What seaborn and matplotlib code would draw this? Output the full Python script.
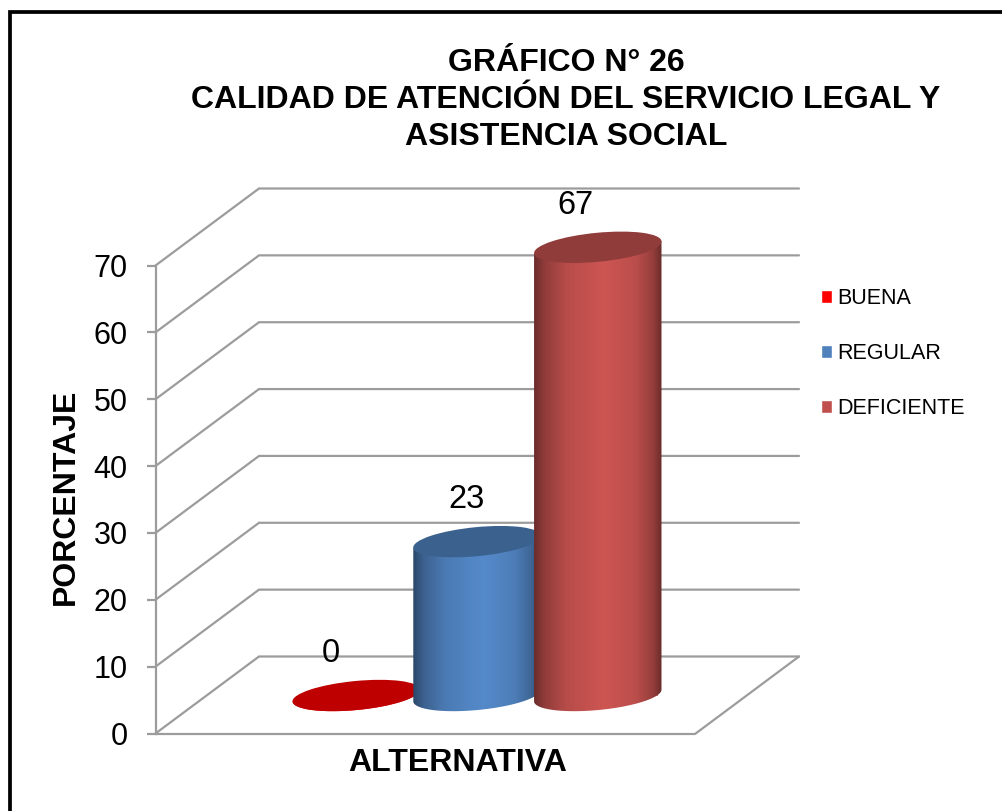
import numpy as np
import pandas as pd
import seaborn as sns
import matplotlib.pyplot as plt
from matplotlib.colors import LinearSegmentedColormap, to_rgb
from matplotlib.patches import Ellipse, PathPatch
from matplotlib.path import Path

alternativas = ["BUENA", "REGULAR", "DEFICIENTE"]
porcentajes = [0, 23, 67]
colores = ["#FF0000", "#4F81BD", "#C0504D"]
ticks = [0, 10, 20, 30, 40, 50, 60, 70]

sns.set_theme(style="white")
plt.rcParams['font.family'] = ['Liberation Sans', 'DejaVu Sans']

W, H = 1002, 811
GRIS = "#9C9C9C"
LW = 1.6

fig = plt.figure(figsize=(W / 100, H / 100), dpi=100, facecolor="white")


def caja(x0, y_base, ancho, alto):
    # pixel box -> figure fraction
    return [x0 / W, (H - y_base) / H, ancho / W, alto / H]


# front plane: only holds the value axis
ax = fig.add_axes(caja(155.5, 733.5, 540, 468))
ax.set_xlim(0, 1)
ax.set_ylim(0, 70)
ax.set_yticks(ticks)
ax.set_xticks([])
sns.despine(ax=ax, left=False, bottom=True)
ax.spines['left'].set_color(GRIS)
ax.spines['left'].set_linewidth(LW)
ax.tick_params(axis='y', left=True, length=6.5, width=LW, color=GRIS, labelsize=22, pad=13.5, labelcolor="black")
ax.patch.set_visible(False)
ax.set_ylabel("PORCENTAJE", fontsize=23, fontweight="bold", color="black")
ax.yaxis.set_label_coords(-0.139, 0.506)
ax.set_xlabel("ALTERNATIVA", fontsize=23, fontweight="bold", color="black")
ax.xaxis.set_label_coords(0.559, -0.031)

# bars stand half way into the floor
ax_bar = fig.add_axes(caja(207, 695.5, 540, 468.3))
tabla = pd.DataFrame({"grupo": [""] * 3, "serie": alternativas, "valor": porcentajes})
sns.barplot(data=tabla, x="grupo", y="valor", hue="serie", hue_order=alternativas,
            palette=colores, width=0.671, saturation=1, ax=ax_bar)
ax_bar.set_xlim(-0.5, 0.5)
ax_bar.set_ylim(0, 70)
sns.move_legend(ax_bar, "upper left", bbox_to_anchor=(821 / W, (H - 288) / H),
                bbox_transform=fig.transFigure, title=None, frameon=False, fontsize=15.5,
                handlelength=0.51, handleheight=0.51, handletextpad=0.23,
                labelspacing=1.58, borderpad=0, borderaxespad=0, labelcolor="black")
ax_bar.axis("off")

# pixel canvas for the walls, cylinders and frame
lienzo = fig.add_axes([0, 0, 1, 1])
lienzo.set_xlim(0, W)
lienzo.set_ylim(H, 0)
lienzo.axis("off")
lienzo.patch.set_visible(False)


def a_pixel(eje, x, y):
    px, py = eje.transData.transform((x, y))
    return px * W / fig.bbox.width, H - py * H / fig.bbox.height


fig.canvas.draw()

# walls
dx, dy = 103.5, -77
x_frente = 155.5
x_fin = 695
for t in ticks:
    _, y = a_pixel(ax, 0, t)
    lienzo.plot([x_frente, x_frente + dx, 799], [y, y + dy, y + dy], color=GRIS, lw=LW, zorder=1,
                solid_joinstyle="miter")
_, y0 = a_pixel(ax, 0, 0)
lienzo.plot([x_frente, x_fin, 799], [y0 + 0.5, y0 + 0.5, y0 + dy], color=GRIS, lw=LW, zorder=1)

# cylinders over the seaborn bars
paradas = [0, 0.08, 0.25, 0.55, 0.8, 0.93, 1]
brillo = [0.55, 0.75, 0.95, 1.07, 0.97, 0.78, 0.55]
phi = np.deg2rad(-5.5)
b = 14.5


def elipse_pts(cx, cy, a, t):
    return np.column_stack([cx + a * np.cos(t) * np.cos(phi) - b * np.sin(t) * np.sin(phi),
                            cy + a * np.cos(t) * np.sin(phi) + b * np.sin(t) * np.cos(phi)])


for k, cont in enumerate(ax_bar.containers):
    barra = cont[0]
    base = np.array(to_rgb(colores[k]))
    xc = barra.get_x() + barra.get_width() / 2
    cx, y_abajo = a_pixel(ax_bar, xc, 0)
    _, y_arriba = a_pixel(ax_bar, xc, barra.get_height())
    a = 64

    inferior = elipse_pts(cx, y_abajo, a, np.linspace(0, np.pi, 60))
    puntos = np.vstack([inferior, elipse_pts(cx, y_arriba, a, np.array([np.pi, 0])), inferior[:1]])
    cuerpo = PathPatch(Path(puntos), facecolor="none", edgecolor="none", transform=lienzo.transData)
    lienzo.add_patch(cuerpo)
    mapa = LinearSegmentedColormap.from_list(
        "cil", [(p, tuple(np.clip(base * m, 0, 1))) for p, m in zip(paradas, brillo)])
    img = lienzo.imshow(np.linspace(0, 1, 256)[None, :], cmap=mapa, aspect="auto",
                        extent=(cx - a, cx + a, y_abajo + 20, y_arriba - 20),
                        zorder=2 + k, interpolation="bilinear")
    img.set_clip_path(cuerpo)
    lienzo.add_patch(Ellipse((cx, y_arriba), 2 * a, 2 * b, angle=np.rad2deg(phi),
                             facecolor=base * 0.75, edgecolor="none", zorder=2.5 + k))

    lienzo.text(cx + [-25, -10, -22][k], y_arriba - 42, str(porcentajes[k]), fontsize=23.5,
                ha="center", va="center", color="black", zorder=10)

lienzo.set_xlim(0, W)
lienzo.set_ylim(H, 0)

# title and frame
lienzo.text(566, 100, "GRÁFICO N° 26\nCALIDAD DE ATENCIÓN DEL SERVICIO LEGAL Y\nASISTENCIA SOCIAL",
            fontsize=23, fontweight="bold", ha="center", va="center", linespacing=1.3, color="black")
lienzo.plot([10, 10, W], [H, 11.5, 11.5], color="black", lw=2.7, solid_joinstyle="miter")

fig.savefig("out.png", dpi=100)
